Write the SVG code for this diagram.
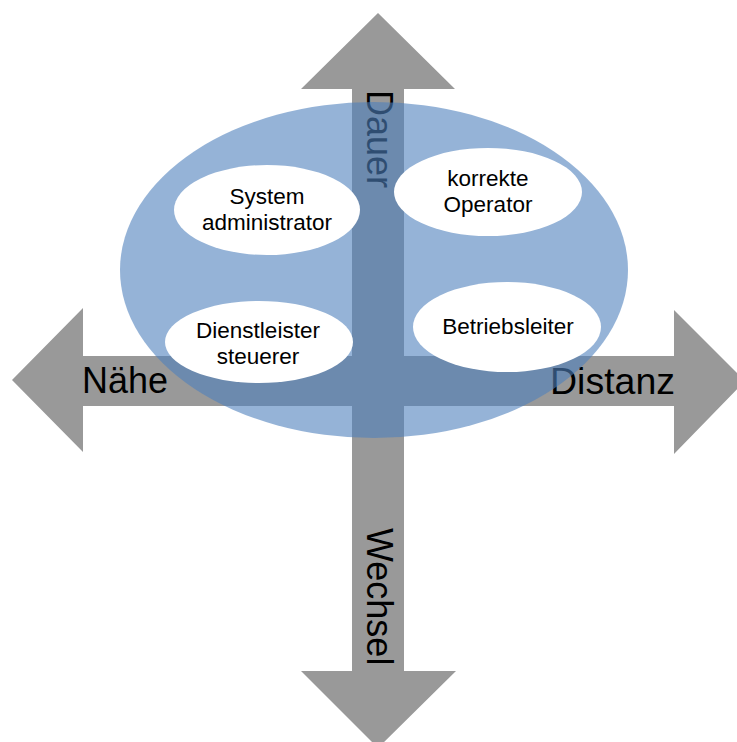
<svg xmlns="http://www.w3.org/2000/svg" width="737" height="742" viewBox="0 0 737 742">
<style>
.axis{font-family:"Liberation Sans",Arial,sans-serif;font-size:36px;fill:#000}
.lbl{font-family:"Liberation Sans",Arial,sans-serif;font-size:22.5px;fill:#000;text-anchor:middle}
.node{fill:#ffffff}
</style>
<rect width="737" height="742" fill="#ffffff"/>
<g id="cross">
<polygon fill="#999999" points="378,13 455,89 404,89 404,356 674,356 674,310 745,381 674,454 674,406 404,406 404,671 456,671 378,748 301,671 352,671 352,406 83,406 83,452 12,380 83,308 83,356 352,356 352,89 301,89"/>
<text class="axis" x="82" y="393" textLength="86" lengthAdjust="spacingAndGlyphs">Nähe</text>
<text class="axis" x="550" y="394" textLength="125" lengthAdjust="spacingAndGlyphs">Distanz</text>
<text class="axis" transform="translate(367,90) rotate(90)">Dauer</text>
<text class="axis" transform="translate(367,528) rotate(90)">Wechsel</text>
</g>
<g id="area">
<ellipse cx="374" cy="270" rx="254" ry="168" fill="#4F81BD" fill-opacity="0.6"/>
</g>
<g id="connectors"></g>
<g id="sysadmin">
<ellipse class="node" cx="267" cy="210" rx="93" ry="45"/>
<text class="lbl" x="267" y="204">System</text>
<text class="lbl" x="267" y="230">administrator</text>
</g>
<g id="operator">
<ellipse class="node" cx="488" cy="192" rx="94" ry="44"/>
<text class="lbl" x="488" y="186">korrekte</text>
<text class="lbl" x="488" y="212">Operator</text>
</g>
<g id="dienstleister">
<ellipse class="node" cx="259" cy="342" rx="94" ry="41"/>
<text class="lbl" x="258" y="338">Dienstleister</text>
<text class="lbl" x="258" y="364">steuerer</text>
</g>
<g id="betriebsleiter">
<ellipse class="node" cx="507" cy="327" rx="94" ry="45"/>
<text class="lbl" x="508" y="334">Betriebsleiter</text>
</g>
</svg>
